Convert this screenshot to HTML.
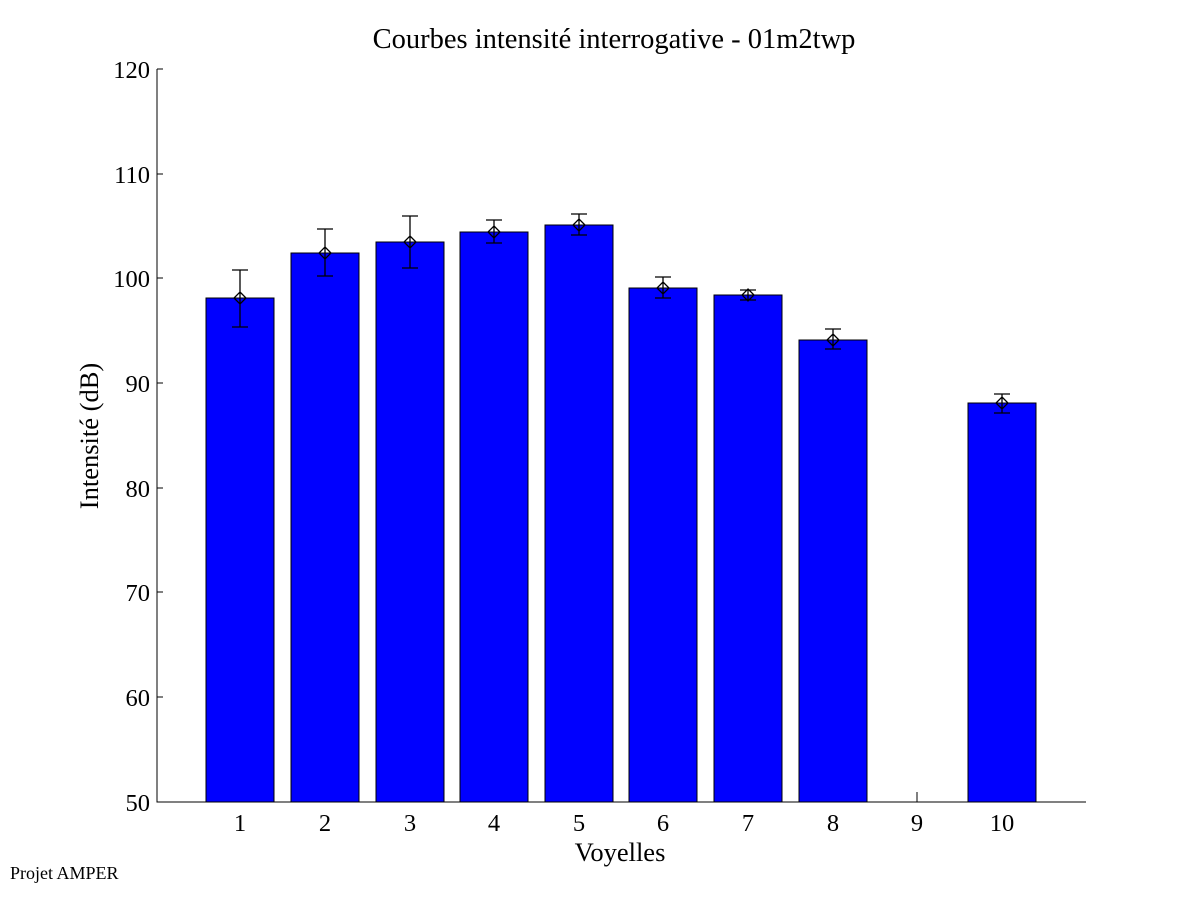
<!DOCTYPE html>
<html><head><meta charset="utf-8"><style>body{margin:0;background:#fff}svg{display:block}</style></head><body>
<svg width="1201" height="901" xmlns="http://www.w3.org/2000/svg" font-family="Liberation Serif, serif">
<rect width="1201" height="901" fill="#fff"/>
<text x="614" y="48" font-size="28.5" text-anchor="middle">Courbes intensité interrogative - 01m2twp</text>
<g fill="#0000ff" stroke="#000" stroke-width="1">
<rect x="206" y="298" width="68" height="504"/>
<rect x="291" y="253" width="68" height="549"/>
<rect x="376" y="242" width="68" height="560"/>
<rect x="460" y="232" width="68" height="570"/>
<rect x="545" y="225" width="68" height="577"/>
<rect x="629" y="288" width="68" height="514"/>
<rect x="714" y="295" width="68" height="507"/>
<rect x="799" y="340" width="68" height="462"/>
<rect x="968" y="403" width="68" height="399"/>
</g>
<g stroke="#000" stroke-width="1.3" fill="none">
<path d="M240 270V327M232 270H248M232 327H248M240 292L246 298L240 304L234 298Z"/>
<path d="M325 229V276M317 229H333M317 276H333M325 247L331 253L325 259L319 253Z"/>
<path d="M410 216V268M402 216H418M402 268H418M410 236L416 242L410 248L404 242Z"/>
<path d="M494 220V243M486 220H502M486 243H502M494 226L500 232L494 238L488 232Z"/>
<path d="M579 214V235M571 214H587M571 235H587M579 219L585 225L579 231L573 225Z"/>
<path d="M663 277V298M655 277H671M655 298H671M663 282L669 288L663 294L657 288Z"/>
<path d="M748 290V300M740 290H756M740 300H756M748 289L754 295L748 301L742 295Z"/>
<path d="M833 329V349M825 329H841M825 349H841M833 334L839 340L833 346L827 340Z"/>
<path d="M1002 394V413M994 394H1010M994 413H1010M1002 397L1008 403L1002 409L996 403Z"/>
</g>
<g stroke="#000" stroke-width="1" fill="none">
<path d="M157 69V802H1086"/>
<path d="M157 69h6M157 174h6M157 278h6M157 383h6M157 488h6M157 592h6M157 697h6"/>
<path d="M917 802v-10"/>
</g>
<g font-size="24.5" text-anchor="end">
<text x="150" y="78">120</text><text x="150" y="183">110</text><text x="150" y="287">100</text>
<text x="150" y="392">90</text><text x="150" y="497">80</text><text x="150" y="601">70</text>
<text x="150" y="706">60</text><text x="150" y="811">50</text>
</g>
<g font-size="24.5" text-anchor="middle">
<text x="240" y="831">1</text><text x="325" y="831">2</text><text x="410" y="831">3</text>
<text x="494" y="831">4</text><text x="579" y="831">5</text><text x="663" y="831">6</text>
<text x="748" y="831">7</text><text x="833" y="831">8</text><text x="917" y="831">9</text>
<text x="1002" y="831">10</text>
</g>
<text x="620" y="861" font-size="26.5" text-anchor="middle">Voyelles</text>
<text transform="translate(98 436) rotate(-90)" font-size="26.5" text-anchor="middle">Intensité (dB)</text>
<text x="10" y="879" font-size="18">Projet AMPER</text>
</svg>
</body></html>
